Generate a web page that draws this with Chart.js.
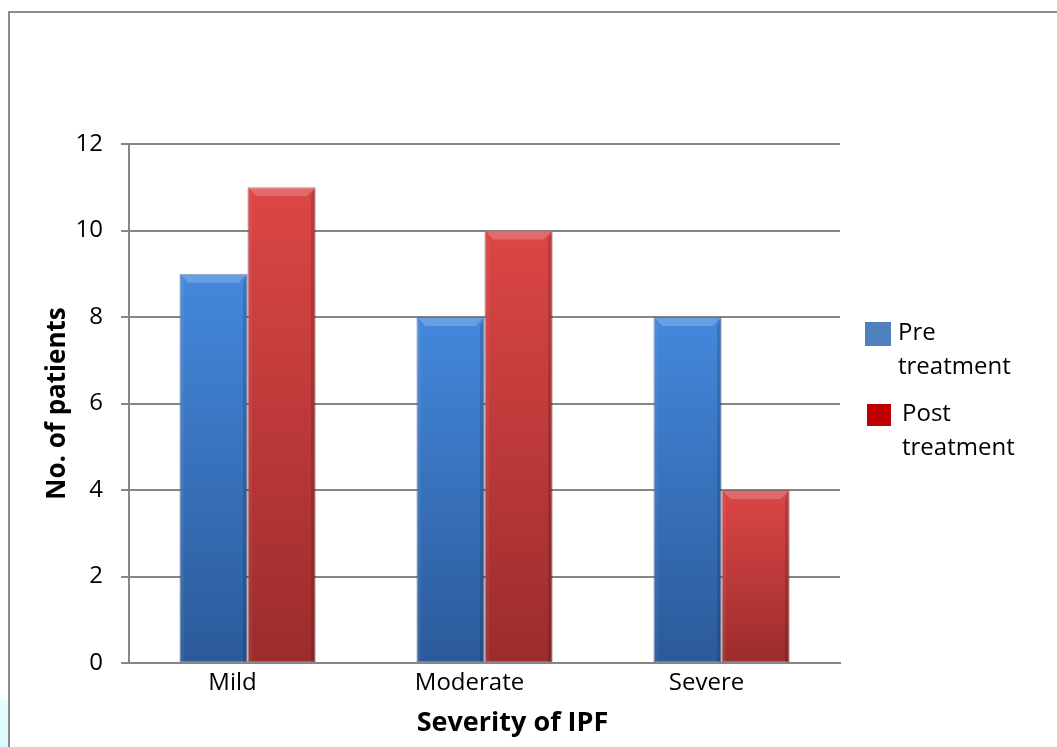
<!DOCTYPE html>
<html>
<head>
<meta charset="utf-8">
<script src="https://cdn.jsdelivr.net/npm/chart.js@4.4.1/dist/chart.umd.min.js"></script>
<style>
  html, body { margin: 0; padding: 0; background: #fff; }
  body { width: 1057px; height: 747px; position: relative; overflow: hidden; font-family: "Open Sans", sans-serif; }
  #frame { position: absolute; left: 8px; top: 11px; width: 1100px; height: 800px; border-left: 2px solid #8c8c8c; border-top: 2px solid #8c8c8c; }
  #cyan { position: absolute; left: 0; top: 700px; width: 8px; height: 47px; background: linear-gradient(#e6fdfe, #d8fbfd); }
  #chartwrap { position: absolute; left: 0; top: 0; width: 1057px; height: 747px; }
  .leg { position: absolute; font-size: 24px; line-height: 34px; color: #000; }
  .sw { position: absolute; }
</style>
</head>
<body>
<div id="cyan"></div>
<div id="frame"></div>
<div id="chartwrap"><canvas id="c" width="1057" height="747"></canvas></div>
<div id="legend"></div>
<script>
const categories = ["Mild", "Moderate", "Severe"];
const preTreatment = [9, 8, 8];
const postTreatment = [11, 10, 4];
const seriesNames = [["Pre", "treatment"], ["Post", "treatment"]];
const yTicks = [0, 2, 4, 6, 8, 10, 12];
const xTitle = "Severity of IPF";
const yTitle = "No. of patients";

const palettes = [
  { top: "#4488dc", bottom: "#2b5a9a", legend: "#4f81bd", border: "rgba(20,45,90,0.6)" },
  { top: "#dc4646", bottom: "#9c2c2c", legend: "#c00000", border: "rgba(90,15,15,0.6)" }
];

function barGradient(idx) {
  return function (ctx) {
    const chart = ctx.chart;
    if (!chart.chartArea || ctx.raw === undefined) return palettes[idx].legend;
    const ys = chart.scales.y;
    const top = ys.getPixelForValue(ctx.raw);
    const base = ys.getPixelForValue(0);
    const g = chart.ctx.createLinearGradient(0, top, 0, base);
    g.addColorStop(0, palettes[idx].top);
    g.addColorStop(1, palettes[idx].bottom);
    return g;
  };
}

const bevelPlugin = {
  id: "bevel",
  afterDatasetsDraw(chart) {
    const c = chart.ctx;
    chart.data.datasets.forEach((ds, di) => {
      const meta = chart.getDatasetMeta(di);
      meta.data.forEach((el) => {
        const p = el.getProps(["x", "y", "base", "width"], true);
        const l = p.x - p.width / 2, r = p.x + p.width / 2, t = p.y, b = p.base;
        const bv = 9;
        c.save();
        c.beginPath();
        c.moveTo(l, t); c.lineTo(r, t); c.lineTo(r - bv, t + bv); c.lineTo(l + bv, t + bv); c.closePath();
        c.fillStyle = "rgba(255,255,255,0.2)"; c.fill();
        c.beginPath();
        c.moveTo(l, t); c.lineTo(l + bv * 0.5, t + bv); c.lineTo(l + bv * 0.5, b); c.lineTo(l, b); c.closePath();
        c.fillStyle = "rgba(255,255,255,0.05)"; c.fill();
        c.beginPath();
        c.moveTo(r, t); c.lineTo(r - bv * 0.5, t + bv); c.lineTo(r - bv * 0.5, b); c.lineTo(r, b); c.closePath();
        c.fillStyle = "rgba(0,0,0,0.14)"; c.fill();
        c.restore();
      });
    });
  }
};

// x-axis title drawn below the category labels, slightly right of centre as in the original
const xTitlePlugin = {
  id: "xTitle",
  afterDraw(chart) {
    const s = chart.scales.x;
    const c = chart.ctx;
    c.save();
    c.font = "bold 27px 'Open Sans'";
    c.fillStyle = "#000";
    c.textAlign = "center";
    c.textBaseline = "middle";
    c.fillText(xTitle, (s.left + s.right) / 2 + 28, s.bottom - 24);
    c.restore();
  }
};

const chart = new Chart(document.getElementById("c"), {
  type: "bar",
  data: {
    labels: categories,
    datasets: [
      { label: seriesNames[0].join(" "), data: preTreatment, backgroundColor: barGradient(0), borderColor: palettes[0].border, borderWidth: 1, borderSkipped: false, categoryPercentage: 0.574, barPercentage: 1.0 },
      { label: seriesNames[1].join(" "), data: postTreatment, backgroundColor: barGradient(1), borderColor: palettes[1].border, borderWidth: 1, borderSkipped: false, categoryPercentage: 0.574, barPercentage: 1.0 }
    ]
  },
  options: {
    responsive: false,
    animation: false,
    devicePixelRatio: 1,
    layout: { padding: { left: 0, top: 144, right: 217, bottom: 0 } },
    plugins: { legend: { display: false }, tooltip: { enabled: false } },
    scales: {
      x: {
        grid: { display: false, drawTicks: false },
        border: { display: true, color: "#868686", width: 2 },
        ticks: { color: "#000", padding: 6, labelOffset: -15, font: { family: "Open Sans", size: 24 } },
        title: { display: false, text: xTitle },
        afterFit(scale) { scale.height = 84; }
      },
      y: {
        min: 0, max: 12,
        afterBuildTicks(scale) { scale.ticks = yTicks.map(v => ({ value: v })); },
        grid: { color: "#868686", lineWidth: 2, tickLength: 8, drawTicks: true },
        border: { display: true, color: "#868686", width: 2 },
        ticks: { color: "#000", padding: 18, font: { family: "Open Sans", size: 24 } },
        title: { display: true, text: yTitle, color: "#000", padding: { top: 42, bottom: 0 }, font: { family: "Open Sans", size: 26, weight: "bold" } },
        afterFit(scale) { scale.width = 129; }
      }
    }
  },
  plugins: [bevelPlugin, xTitlePlugin]
});

const legendEl = document.getElementById("legend");
const legendPos = [
  { sx: 865, sy: 322, sw: 26, sh: 24, tx: 898, ty: 314 },
  { sx: 867, sy: 404, sw: 24, sh: 22, tx: 902, ty: 395 }
];
seriesNames.forEach((lines, i) => {
  const p = legendPos[i];
  const sw = document.createElement("div");
  sw.className = "sw";
  sw.style.cssText = `left:${p.sx}px;top:${p.sy}px;width:${p.sw}px;height:${p.sh}px;background:${palettes[i].legend};`;
  legendEl.appendChild(sw);
  const tx = document.createElement("div");
  tx.className = "leg";
  tx.style.left = p.tx + "px";
  tx.style.top = p.ty + "px";
  tx.innerHTML = lines.join("<br>");
  legendEl.appendChild(tx);
});
</script>
</body>
</html>
